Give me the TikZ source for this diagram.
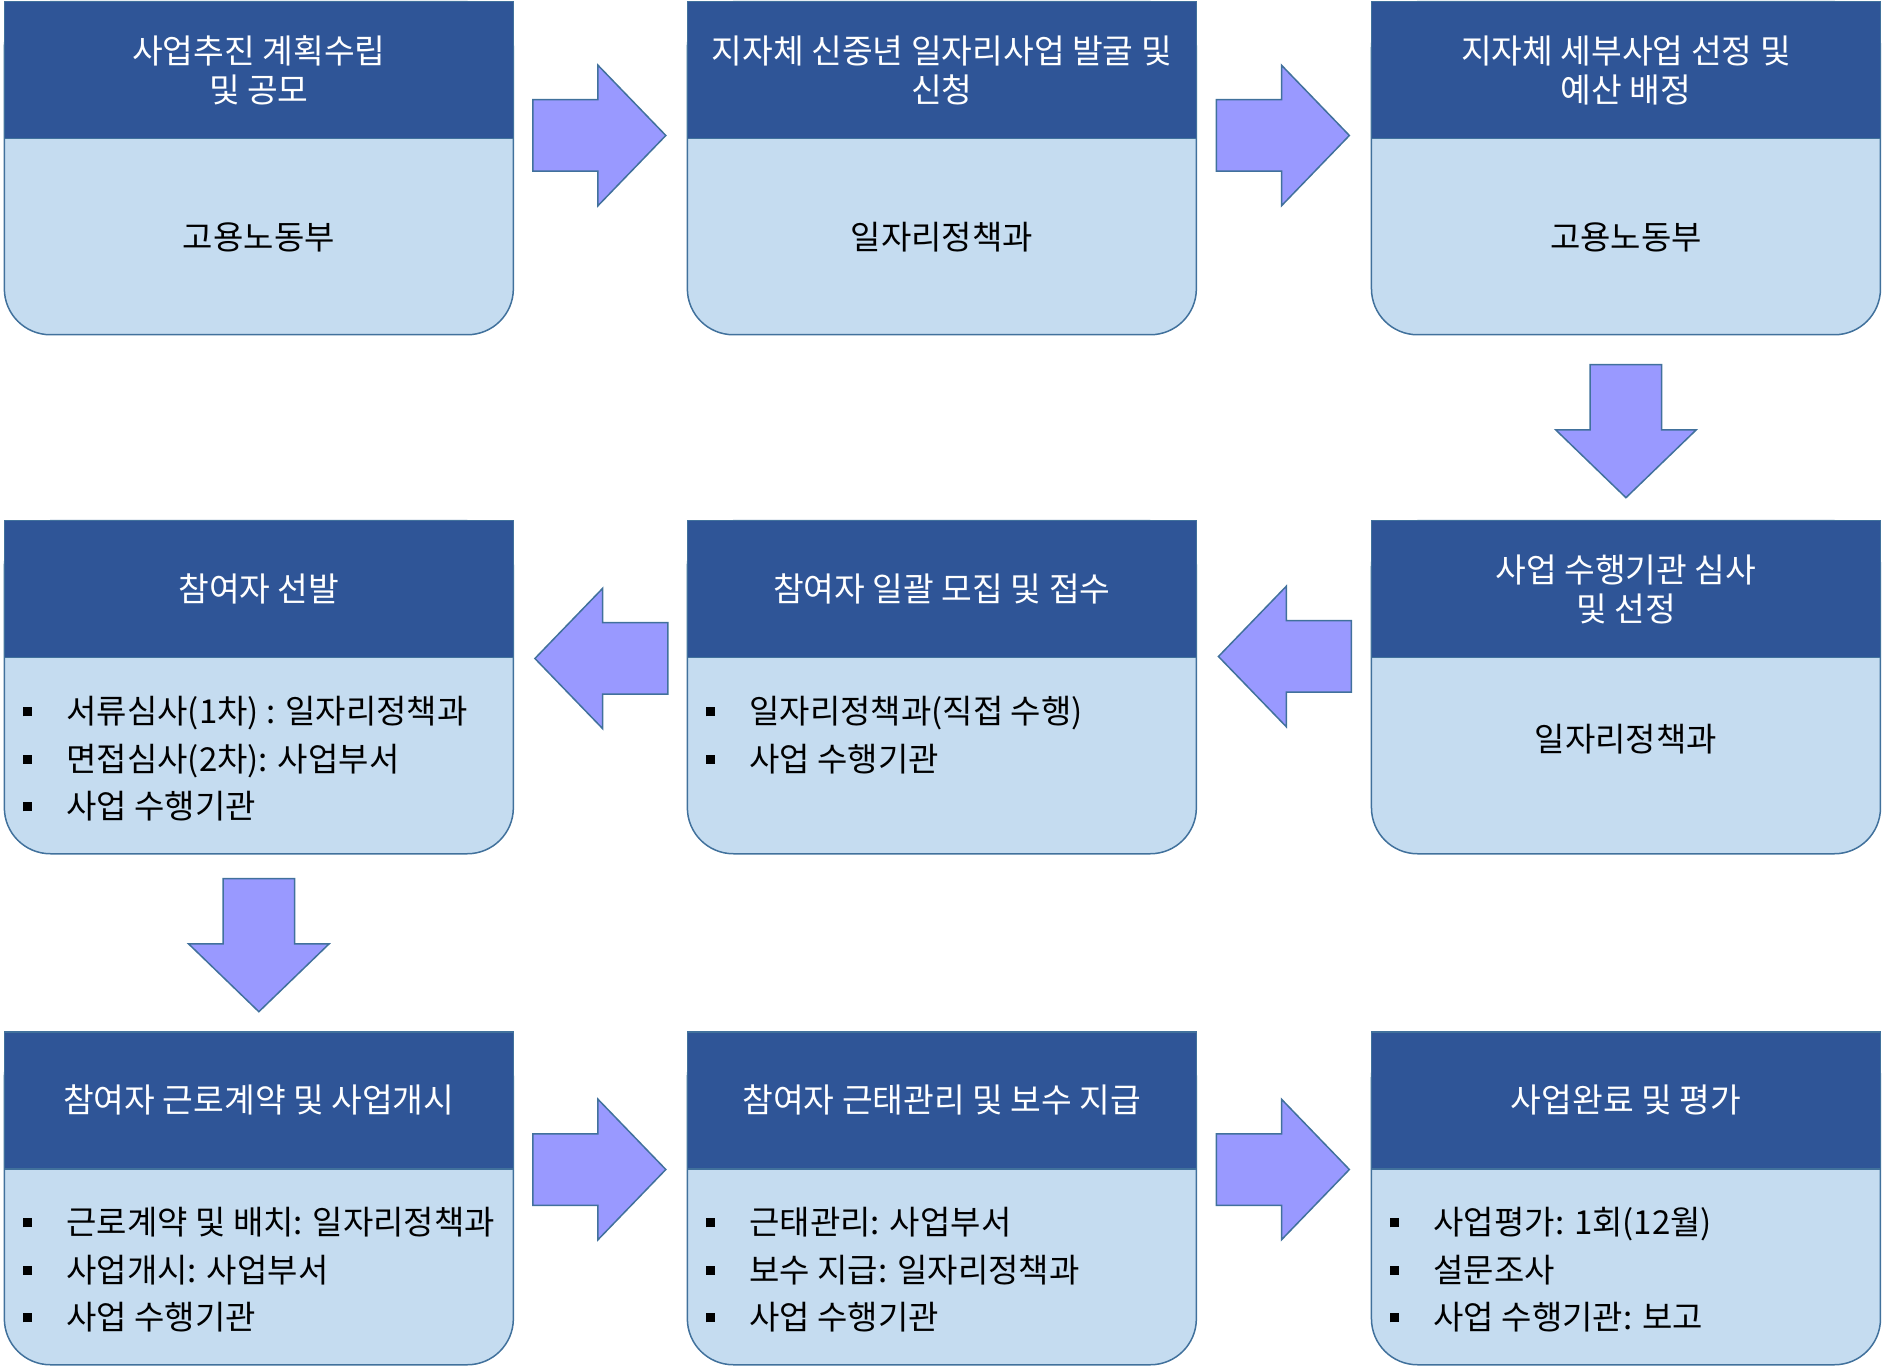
\documentclass[tikz,border=0pt]{standalone}
\usepackage{fontspec}
\setmainfont{Noto Sans CJK KR}
\usetikzlibrary{calc,shapes.arrows}
\definecolor{headblue}{HTML}{2F5597}
\definecolor{bodyblue}{HTML}{C5DCF0}
\definecolor{edgeblue}{HTML}{41719C}
\definecolor{arrowblue}{HTML}{9999FF}
\newcommand{\headfont}{\fontsize{16.7pt}{19.4pt}\selectfont}
\newcommand{\stepfont}{\fontsize{16.5pt}{19.4pt}\selectfont}
\newcommand{\sqbullet}{\raisebox{3.6pt}{\rule{4.5pt}{4.5pt}}\hspace{17.5pt}}
\tikzset{
  stepbody/.style={rectangle, rounded corners=23pt, draw=edgeblue, fill=bodyblue, line width=0.75pt,
    minimum width=254.5pt, minimum height=166.5pt, inner sep=0pt, anchor=north west},
  stephead/.style={rectangle, draw=edgeblue, fill=headblue, line width=0.75pt,
    minimum width=254.5pt, minimum height=68.5pt, inner sep=0pt, anchor=north,
    text=white, align=center, font=\headfont},
  steptext/.style={font=\stepfont, inner sep=0pt},
  stepitem/.style={font=\stepfont, inner sep=0pt, anchor=west, text height=14pt, text depth=2pt},
  flowarrow/.style={single arrow, draw=edgeblue, fill=arrowblue, line width=0.75pt,
    minimum height=66.5pt, inner xsep=0pt, inner ysep=17.5pt, single arrow head extend=17.25pt,
    single arrow tip angle=92, anchor=tip}
}
\begin{document}
\begin{tikzpicture}[x=0.5pt,y=0.5pt]
    \useasboundingbox (0,0) rectangle (1882,1366);

    % boxes, row by row
    \node[stepbody] (b1) at (3.6,1365) {};
    \node[stepbody] (b2) at (686.6,1365) {};
    \node[stepbody] (b3) at (1370.7,1365) {};
    \node[stepbody] (b4) at (3.6,846) {};
    \node[stepbody] (b5) at (686.6,846) {};
    \node[stepbody] (b6) at (1370.7,846) {};
    \node[stepbody] (b7) at (3.6,335) {};
    \node[stepbody] (b8) at (686.6,335) {};
    \node[stepbody] (b9) at (1370.7,335) {};

    \node[stephead] (h1) at (b1.north) {사업추진 계획수립\\및 공모};
    \node[stephead] (h2) at (b2.north) {지자체 신중년 일자리사업 발굴 및\\신청};
    \node[stephead] (h3) at (b3.north) {지자체 세부사업 선정 및\\예산 배정};
    \node[stephead] (h4) at (b4.north) {참여자 선발};
    \node[stephead] (h5) at (b5.north) {참여자 일괄 모집 및 접수};
    \node[stephead] (h6) at (b6.north) {사업 수행기관 심사\\및 선정};
    \node[stephead] (h7) at (b7.north) {참여자 근로계약 및 사업개시};
    \node[stephead] (h8) at (b8.north) {참여자 근태관리 및 보수 지급};
    \node[stephead] (h9) at (b9.north) {사업완료 및 평가};

    % body texts
    \node[steptext] (t1) at ($(h1.south)!0.5!(b1.south)$) {고용노동부};
    \node[steptext] (t2) at ($(h2.south)!0.5!(b2.south)$) {일자리정책과};
    \node[steptext] (t3) at ($(h3.south)!0.5!(b3.south)$) {고용노동부};
    \node[steptext] (t6) at ($(h6.south)!0.5!(b6.south)+(0,17)$) {일자리정책과};

    \foreach \txt [count=\i] in {서류심사(1차) : 일자리정책과,면접심사(2차): 사업부서,사업 수행기관}
      \node[stepitem] (l4-\i) at ($(h4.south west)+(18.5,{-5.5-47.5*\i})$) {\sqbullet\txt};
    \foreach \txt [count=\i] in {일자리정책과(직접 수행),사업 수행기관}
      \node[stepitem] (l5-\i) at ($(h5.south west)+(18.5,{-5.5-47.5*\i})$) {\sqbullet\txt};
    \foreach \txt [count=\i] in {근로계약 및 배치: 일자리정책과,사업개시: 사업부서,사업 수행기관}
      \node[stepitem] (l7-\i) at ($(h7.south west)+(18.5,{-5.5-47.5*\i})$) {\sqbullet\txt};
    \foreach \txt [count=\i] in {근태관리: 사업부서,보수 지급: 일자리정책과,사업 수행기관}
      \node[stepitem] (l8-\i) at ($(h8.south west)+(18.5,{-5.5-47.5*\i})$) {\sqbullet\txt};
    \foreach \txt [count=\i] in {사업평가: 1회(12월),설문조사,사업 수행기관: 보고}
      \node[stepitem] (l9-\i) at ($(h9.south west)+(18.5,{-5.5-47.5*\i})$) {\sqbullet\txt};

    % block arrows between the steps (placed by their tips)
    \node[flowarrow] (a12) at ($(h1.south east)!0.5!(h2.south west)+(66.5,4)$) {};
    \node[flowarrow] (a23) at ($(h2.south east)!0.5!(h3.south west)+(66.5,4)$) {};
    \node[flowarrow, rotate=-90] (a36) at ($(b3.south)!0.5!(h6.north)+(0,-71)$) {};
    \node[flowarrow, rotate=180] (a65) at ($(h6.south west)!0.5!(h5.south east)+(-66.5,2)$) {};
    \node[flowarrow, rotate=180] (a54) at ($(h5.south west)!0.5!(h4.south east)+(-66.5,0)$) {};
    \node[flowarrow, rotate=-90] (a47) at ($(b4.south)!0.5!(h7.north)+(0,-70)$) {};
    \node[flowarrow] (a78) at ($(h7.south east)!0.5!(h8.south west)+(66.5,0)$) {};
    \node[flowarrow] (a89) at ($(h8.south east)!0.5!(h9.south west)+(66.5,0)$) {};
\end{tikzpicture}
\end{document}
